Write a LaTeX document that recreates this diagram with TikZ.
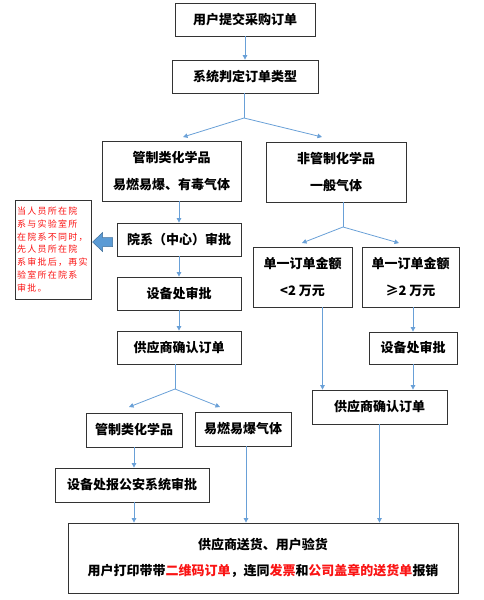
\documentclass[tikz,border=0pt]{standalone}
\usepackage{fontspec}
\setmainfont{Noto Sans CJK SC}
\newfontfamily\notefont[LetterSpace=14]{Noto Sans CJK SC}
\usepackage{xcolor}
\usepackage{tikz}
\usetikzlibrary{arrows.meta,positioning}
\definecolor{linkblue}{RGB}{105,160,215}
\definecolor{notered}{RGB}{250,20,20}
\definecolor{hintfill}{RGB}{91,155,213}
\definecolor{hintedge}{RGB}{65,113,156}
\tikzset{stepbox/.style={rectangle, draw=black!80, line width=0.8pt, align=center, inner sep=0pt, font=\bfseries\fontsize{13}{27}\selectfont, minimum height=33pt}, notebox/.style={rectangle, draw=black!80, line width=0.8pt, align=left, inner xsep=2pt, text width=72pt, minimum height=99pt, font=\notefont\fontsize{9}{12.7}\selectfont, text=notered}, link/.style={-{Triangle[length=4.5pt,width=4.5pt]}, line width=0.8pt, draw=linkblue}, hintarrow/.style={fill=hintfill, draw=hintedge, line width=0.5pt}}

\begin{document}
\begin{tikzpicture}[x=1pt, y=-1pt]
\useasboundingbox (0,0) rectangle (483,600);
\node[stepbox, minimum width=140pt] (submit) at (245,19.5) {用户提交采购订单};
\node[stepbox, minimum width=146pt] (judge) at (245,76.5) {系统判定订单类型};
\node[stepbox, minimum width=139pt, minimum height=60pt] (ctrl) at (171.5,171) {管制类化学品\\易燃易爆、有毒气体};
\node[stepbox, minimum width=140pt, minimum height=60pt] (nonctrl) at (336,172) {非管制化学品\\一般气体};
\node[stepbox, minimum width=124pt] (dept) at (179,239.5) {院系（中心）审批};
\node[notebox] (note) at (53,249.5) {当人员所在院\\系与实验室所\\在院系不同时，\\先人员所在院\\系审批后，再实\\验室所在院系\\审批。};
\node[stepbox, minimum width=124pt] (equip) at (179,293.5) {设备处审批};
\node[stepbox, minimum width=124pt] (confirm) at (179,347.5) {供应商确认订单};
\node[stepbox, minimum width=99pt, minimum height=60pt] (small) at (302.5,277) {单一订单金额\\<2 万元};
\node[stepbox, minimum width=97pt, minimum height=60pt] (large) at (410.5,277) {单一订单金额\\≥2 万元};
\node[stepbox, minimum width=88pt, minimum height=32pt] (equipb) at (413,348) {设备处审批};
\node[stepbox, minimum width=135pt, minimum height=34pt] (confirmb) at (379.5,407) {供应商确认订单};
\node[stepbox, minimum width=96pt, minimum height=34pt] (ctrlb) at (134,430) {管制类化学品};
\node[stepbox, minimum width=96pt, minimum height=34pt] (gas) at (243,429) {易燃易爆气体};
\node[stepbox, minimum width=154pt, minimum height=34pt] (police) at (132,485) {设备处报公安系统审批};
\node[stepbox, minimum width=390pt, minimum height=70pt, font=\bfseries\fontsize{13}{26}\selectfont] (deliver) at (263,558) {供应商送货、用户验货\\用户打印带带\textcolor{notered}{二维码订单}，连同\textcolor{notered}{发票}和\textcolor{notered}{公司盖章的送货单}报销};
% branch points
\coordinate (splitA) at (244,118);
\coordinate (splitB) at (343,227);
\coordinate (splitC) at (175,389);
\coordinate (toctrl) at (183,137);
\coordinate (tononctrl) at (322,137);
\coordinate (tosmall) at (302,243);
\coordinate (tolarge) at (399,243);
\coordinate (toctrlb) at (129,407);
\coordinate (togas) at (220,407);
\draw[link] (submit)--(judge);
\draw[draw=linkblue, line width=0.8pt] (judge.south -| splitA)--(splitA);
\draw[link] (splitA)--(toctrl);
\draw[link] (splitA)--(tononctrl);
\draw[link] (dept.north |- ctrl.south)--(dept.north);
\draw[link] (dept)--(equip);
\draw[link] (equip)--(confirm);
\draw[draw=linkblue, line width=0.8pt] (nonctrl.south -| splitB)--(splitB);
\draw[link] (splitB)--(tosmall);
\draw[link] (splitB)--(tolarge);
\draw[link] (equipb.north |- large.south)--(equipb.north);
\draw[link] (equipb)--(equipb.south |- confirmb.north);
\draw[link] ([xshift=20pt]small.south)--([xshift=20pt]small.south |- confirmb.north);
\draw[draw=linkblue, line width=0.8pt] (confirm.south -| splitC)--(splitC);
\draw[link] (splitC)--(toctrlb);
\draw[link] (splitC)--(togas);
\draw[link] (ctrlb)--(police.north -| ctrlb);
\draw[link] (police.south -| ctrlb)--(deliver.north -| ctrlb);
\draw[link] ([xshift=3pt]gas.south)--([xshift=3pt]gas.south |- deliver.north);
\draw[link] (confirmb)--(confirmb.south |- deliver.north);
% hint arrow towards the note
\draw[hintarrow] ([xshift=-4pt]dept.west) ++(0,-2) -- ++(-10,0) -- ++(0,-5) -- ++(-10,9.5) -- ++(10,9.5) -- ++(0,-5) -- ++(10,0) -- cycle;
\end{tikzpicture}
\end{document}
